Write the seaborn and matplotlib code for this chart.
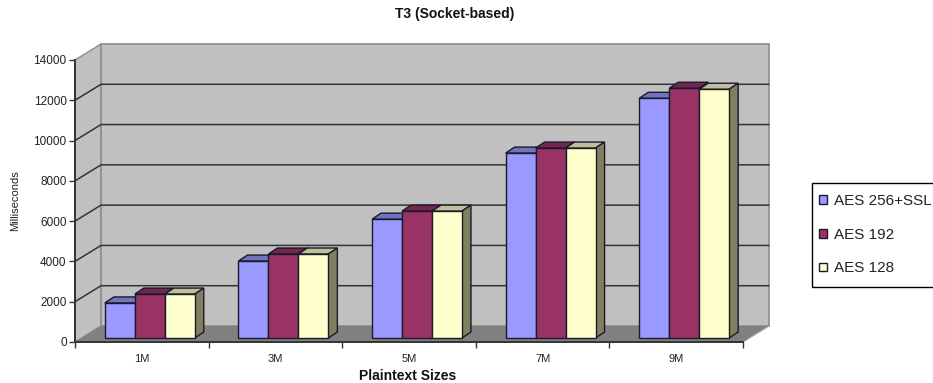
import matplotlib
matplotlib.use("Agg")
import matplotlib.pyplot as plt
import pandas as pd
import seaborn as sns
from matplotlib.patches import Polygon
from matplotlib.transforms import Affine2D, IdentityTransform

sizes = ["1M", "3M", "5M", "7M", "9M"]
aes_256_ssl = [1740, 3820, 5900, 9180, 11900]
aes_192 = [2180, 4170, 6300, 9430, 12400]
aes_128 = [2180, 4170, 6300, 9430, 12350]
series_names = ["AES 256+SSL", "AES 192", "AES 128"]
series_colors = ["#9999ff", "#993366", "#ffffcc"]
top_colors = ["#7272c0", "#722650", "#bfbf99"]
side_colors = ["#72729f", "#722650", "#808060"]
y_ticks = [0, 2000, 4000, 6000, 8000, 10000, 12000, 14000]

W, H = 933, 383
sns.set_style("white")
plt.rcParams["font.family"] = ["Liberation Sans", "DejaVu Sans"]

fig = plt.figure(figsize=(W / 100, H / 100), dpi=100)
LEFT, RIGHT, TOP, BOTTOM = 75, 743, 60, 342
ax = fig.add_axes([LEFT / W, 1 - BOTTOM / H, (RIGHT - LEFT) / W, (BOTTOM - TOP) / H])
ax.patch.set_visible(False)

table = pd.DataFrame({
    "size": sizes * 3,
    "ms": aes_256_ssl + aes_192 + aes_128,
    "series": [n for n in series_names for _ in sizes],
})
sns.barplot(data=table, x="size", y="ms", hue="series", order=sizes,
            hue_order=series_names, palette=series_colors, saturation=1,
            width=0.673, gap=0, dodge=True, ax=ax, legend=False, zorder=4)
ax.set_xlim(-0.5, 4.5)
ax.set_ylim(0, 14000)

# Depth of the chart box and of the bars, in display pixels (y grows upward).
BOX_DX, BOX_DY = 26, 16
BAR_DX, BAR_DY = 9, 6
BAR_SHIFT_X, BAR_SHIFT_Y = 8, 4
plain = IdentityTransform()


def to_px(x, y):
    return ax.transData.transform((x, y))


def face(points, color, zorder, edge="none", lw=0):
    ax.add_patch(Polygon(points, closed=True, facecolor=color, edgecolor=edge,
                         linewidth=lw, transform=plain, clip_on=False, zorder=zorder))


fl = to_px(-0.5, 0)
fr = to_px(4.5, 0)
tl = to_px(-0.5, 14000)
tr = to_px(4.5, 14000)
d = (BOX_DX, BOX_DY)
face([tl, tl + d, fl + d, fl], "#c0c0c0", 0.5, "#8c8c8c", 1)
face([tl + d, tr + d, fr + d, fl + d], "#c0c0c0", 0.6, "#8c8c8c", 1.2)
face([fl, fl + d, fr + d, fr], "#808080", 0.7)

# Gridlines run across the side wall and the back wall.
for v in y_ticks[1:-1]:
    a = to_px(-0.5, v)
    b = to_px(4.5, v)
    ax.plot([a[0], a[0] + d[0], b[0] + d[0]], [a[1], a[1] + d[1], a[1] + d[1]],
            color="#333333", lw=1.1, transform=plain, clip_on=False, zorder=1)
ax.plot([fr[0], fr[0] + d[0]], [fr[1], fr[1] + d[1]], color="#a0a0a0", lw=0.8,
        transform=plain, clip_on=False, zorder=0.8)

# Each bar gets a lit top and a shaded side, drawn back to front.
shift = Affine2D().translate(BAR_SHIFT_X, BAR_SHIFT_Y)
for h, container in enumerate(ax.containers):
    for bar in container:
        z = 4 + h
        x0, x1 = bar.get_x(), bar.get_x() + bar.get_width()
        top = bar.get_height()
        p10 = to_px(x1, 0) + (BAR_SHIFT_X, BAR_SHIFT_Y)
        p01 = to_px(x0, top) + (BAR_SHIFT_X, BAR_SHIFT_Y)
        p11 = to_px(x1, top) + (BAR_SHIFT_X, BAR_SHIFT_Y)
        e = (BAR_DX, BAR_DY)
        face([p01, p01 + e, p11 + e, p11], top_colors[h], z, "#1a1a2a", 1)
        face([p10, p10 + e, p11 + e, p11], side_colors[h], z, "#1a1a2a", 1)
        bar.set_transform(ax.transData + shift)
        bar.set_edgecolor("#1a1a2a")
        bar.set_linewidth(1)
        bar.set_zorder(z + 0.1)
        bar.set_clip_on(False)

for name in ("top", "right"):
    ax.spines[name].set_visible(False)
for name in ("left", "bottom"):
    ax.spines[name].set_color("#333333")
    ax.spines[name].set_linewidth(1.4)
    ax.spines[name].set_zorder(3)

ax.set_yticks(y_ticks)
ax.set_xticks(range(len(sizes)), sizes)
ax.set_xticks([i - 0.5 for i in range(len(sizes) + 1)], minor=True)
ax.tick_params(axis="x", which="major", length=0, labelsize=8, pad=9, labelcolor="#222222")
ax.tick_params(axis="x", which="minor", length=4, width=1, color="#333333", bottom=True)
ax.tick_params(axis="y", length=4, width=1, color="#333333", labelsize=8.5,
               left=True, pad=2, labelcolor="#222222")

ax.set_xlabel("")
ax.set_ylabel("")
fig.text(408 / W, 1 - 376 / H, "Plaintext Sizes", fontsize=10, fontweight="bold",
         ha="center", va="center", color="#111111")
fig.text(15 / W, 1 - 201 / H, "Milliseconds", fontsize=8, rotation=90,
         ha="center", va="center", color="#222222")
fig.text(455 / W, 1 - 14 / H, "T3 (Socket-based)", fontsize=10, fontweight="bold",
         ha="center", va="center", color="#111111")

handles = [c[0] for c in ax.containers]
legend = ax.legend(handles, series_names, loc="upper left",
                   bbox_to_anchor=(812 / W, 1 - 183 / H), bbox_transform=fig.transFigure,
                   borderaxespad=0, fontsize=11, frameon=True, fancybox=False,
                   edgecolor="black", framealpha=1, handlelength=0.52, handleheight=0.52,
                   handletextpad=0.2, labelspacing=1.28, borderpad=0.74, labelcolor="#222222")
legend.get_frame().set_linewidth(1)
legend.set_zorder(10)
for swatch in legend.get_patches():
    swatch.set_x(swatch.get_x() - 3)

fig.savefig("out.png", dpi=100, facecolor="white")
